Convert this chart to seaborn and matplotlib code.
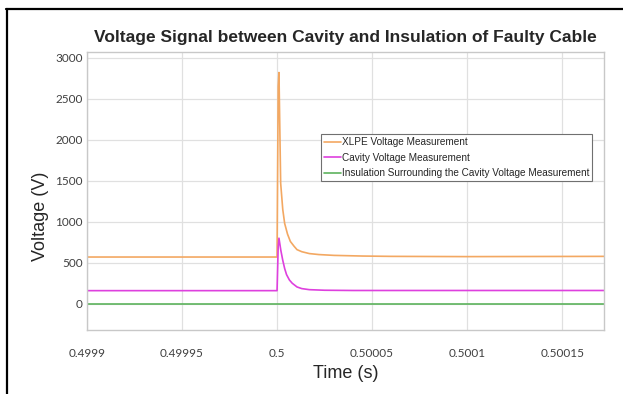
import matplotlib
matplotlib.use("Agg")
import matplotlib.pyplot as plt
from matplotlib.lines import Line2D
import seaborn as sns
import numpy as np
import pandas as pd

# time offsets after t = 0.5 s, in microseconds
xlpe_us = [-100, 0, 0.6, 1.0, 1.9, 3.0, 4.0, 5.5, 7.0, 9.0, 10.5, 13, 17, 22, 30, 45, 60, 100, 172]
xlpe_v = [570, 570, 2650, 2820, 1470, 1150, 980, 850, 760, 700, 660, 635, 612, 600, 590, 582, 578, 575, 578]

cavity_us = [-100, 0, 0.6, 1.0, 2.0, 3.0, 4.0, 5.0, 6.5, 8.0, 10.5, 13, 17, 25, 40, 172]
cavity_v = [160, 160, 700, 800, 650, 530, 430, 355, 290, 250, 205, 185, 172, 165, 162, 162]

insul_us = [-100, 172]
insul_v = [0, 0]

series_names = ["XLPE Voltage Measurement",
                "Cavity Voltage Measurement",
                "Insulation Surrounding the Cavity Voltage Measurement"]
colors = ["#F3A862", "#DE40DE", "#5DB35D"]

xticks = [0.4999, 0.49995, 0.5, 0.50005, 0.5001, 0.50015]
xtick_labels = ["0.4999", "0.49995", "0.5", "0.50005", "0.5001", "0.50015"]
yticks = [0, 500, 1000, 1500, 2000, 2500, 3000]

frames = []
for name, us, v in [(series_names[0], xlpe_us, xlpe_v),
                    (series_names[1], cavity_us, cavity_v),
                    (series_names[2], insul_us, insul_v)]:
    frames.append(pd.DataFrame({"t": 0.5 + np.array(us) * 1e-6, "v": v, "series": name}))
df = pd.concat(frames, ignore_index=True)

sns.set_style("whitegrid")
plt.rcParams['font.family'] = ['Liberation Sans', 'DejaVu Sans']

fig = plt.figure(figsize=(6.23, 3.94), dpi=100)
ax = fig.add_axes([0.1396, 0.1624, 0.8299, 0.7056])

sns.lineplot(data=df, x="t", y="v", hue="series", palette=colors,
             hue_order=series_names, linewidth=1.2, ax=ax, sort=False)

ax.set_xlim(0.4999, 0.500172)
ax.set_ylim(-320, 3070)
ax.set_xticks(xticks)
ax.set_xticklabels(xtick_labels)
ax.set_yticks(yticks)
ax.tick_params(axis="both", length=0, labelsize=8.5, labelcolor="#404040")
for lab in ax.get_xticklabels() + ax.get_yticklabels():
    lab.set_family(["Lato", "DejaVu Sans"])
ax.tick_params(axis="x", pad=13)
ax.tick_params(axis="y", pad=3)

ax.grid(True, color="#e0e0e0", linewidth=0.9)
for sp in ax.spines.values():
    sp.set_color("#c8c8c8")
    sp.set_linewidth(1.0)

ax.set_title("Voltage Signal between Cavity and Insulation of Faulty Cable",
             fontsize=12.5, fontweight="bold", pad=7)
ax.set_xlabel("Time (s)", fontsize=13, labelpad=4)
ax.set_ylabel("Voltage (V)", fontsize=13, labelpad=3)
ax.yaxis.set_label_coords(-0.073, 0.41)

leg = ax.legend(loc="upper right", bbox_to_anchor=(0.977, 0.705), borderaxespad=0,
                prop={"family": ["Liberation Sans Narrow", "Liberation Sans"], "size": 7.2},
                handlelength=1.7, handletextpad=0.1, labelspacing=0.55, borderpad=0.3,
                fancybox=False, framealpha=1)
leg.get_frame().set_edgecolor("#707070")
leg.get_frame().set_linewidth(0.8)

# black frame lines along the left and top of the image
fig.add_artist(Line2D([6 / 623, 1], [1 - 9 / 394, 1 - 9 / 394], color="black", linewidth=1.6))
fig.add_artist(Line2D([7 / 623, 7 / 623], [0, 1 - 9 / 394], color="black", linewidth=1.6))

fig.savefig("out.png", dpi=100)
